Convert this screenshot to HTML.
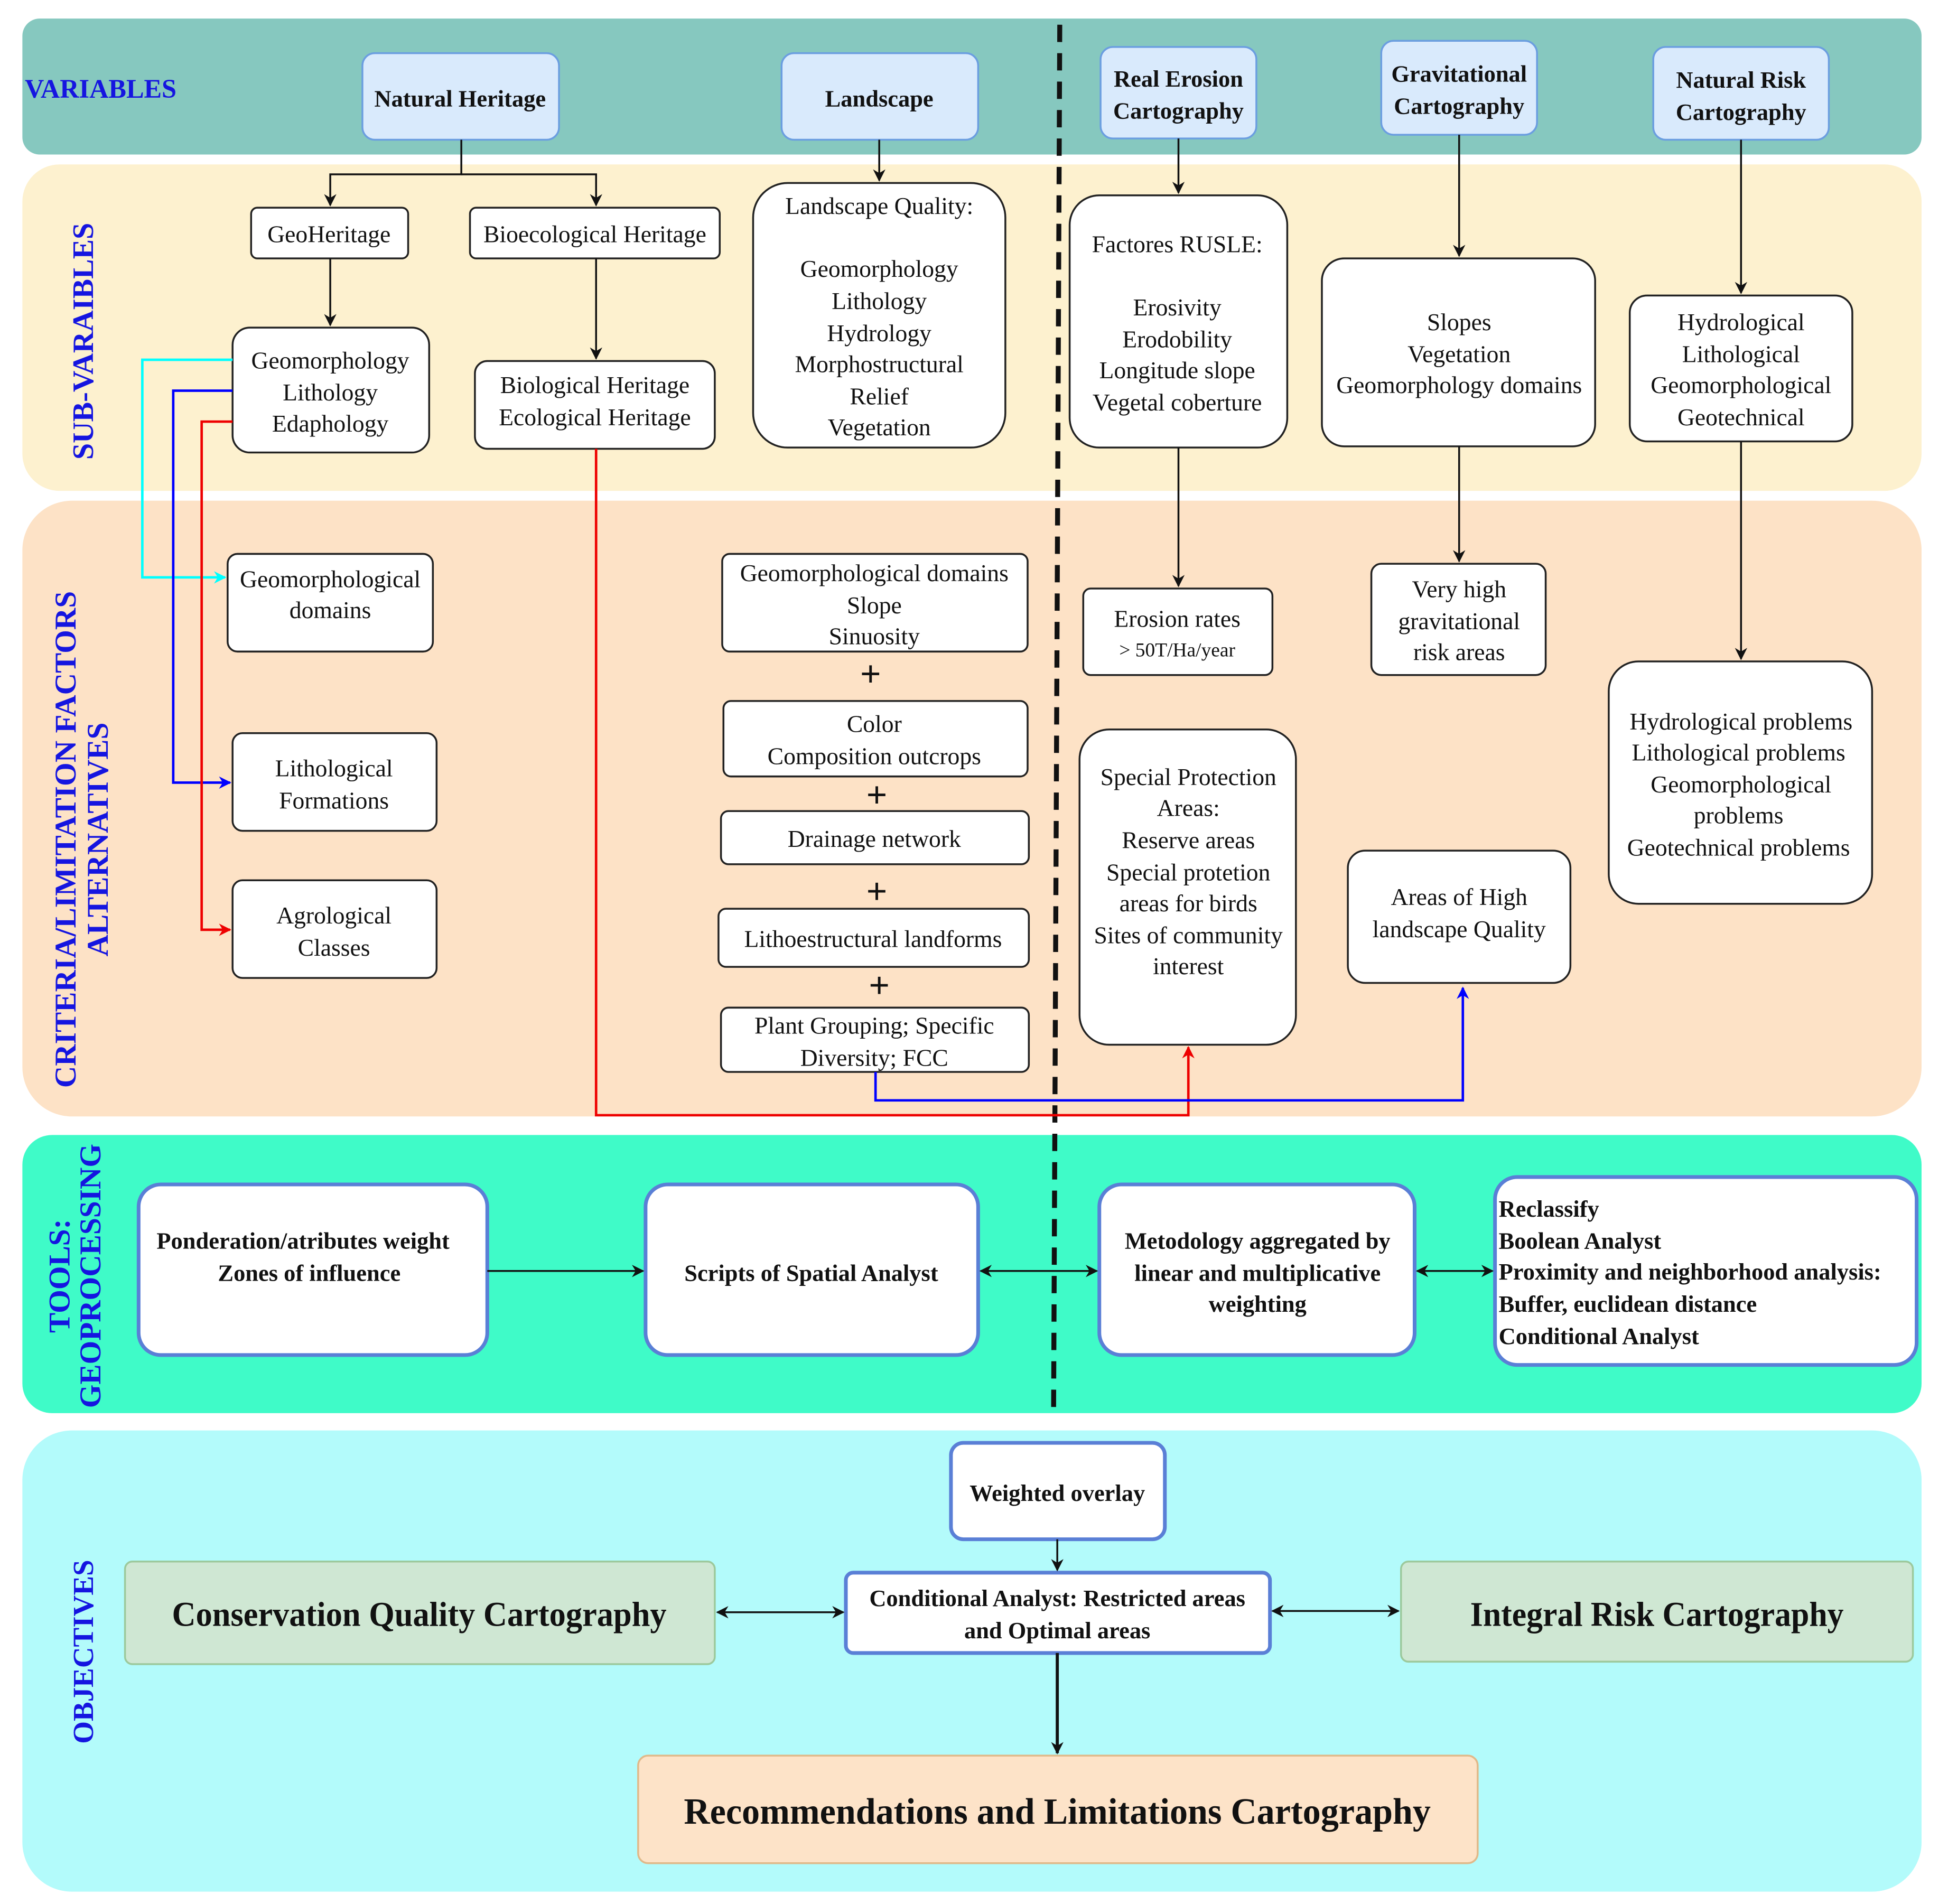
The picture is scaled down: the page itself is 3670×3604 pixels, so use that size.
<!DOCTYPE html>
<html><head><meta charset="utf-8"><style>
html,body{margin:0;padding:0;background:#fff}
svg{display:block}
text{font-family:"Liberation Serif",serif;fill:#111}
</style></head><body>
<svg width="3670" height="3604" viewBox="0 0 1568 1540" xmlns="http://www.w3.org/2000/svg">
<defs>
<marker id="ak" markerWidth="10" markerHeight="10" refX="9" refY="5" orient="auto" markerUnits="userSpaceOnUse"><path d="M0,0 L10,5 L0,10 L3,5 z" fill="#111"/></marker>
<marker id="ak2" markerWidth="10" markerHeight="10" refX="1" refY="5" orient="auto" markerUnits="userSpaceOnUse"><path d="M10,0 L0,5 L10,10 L7,5 z" fill="#111"/></marker>
<marker id="ac" markerWidth="10" markerHeight="10" refX="9" refY="5" orient="auto" markerUnits="userSpaceOnUse"><path d="M0,0 L10,5 L0,10 L3,5 z" fill="#0ff"/></marker>
<marker id="ab" markerWidth="10" markerHeight="10" refX="9" refY="5" orient="auto" markerUnits="userSpaceOnUse"><path d="M0,0 L10,5 L0,10 L3,5 z" fill="#00f"/></marker>
<marker id="ar" markerWidth="10" markerHeight="10" refX="9" refY="5" orient="auto" markerUnits="userSpaceOnUse"><path d="M0,0 L10,5 L0,10 L3,5 z" fill="#e00"/></marker>
</defs>
<rect x="18" y="15" width="1536" height="110" rx="14" fill="#86c8bf"/>
<rect x="18" y="133" width="1536" height="264" rx="30" fill="#fdf1cf"/>
<rect x="18" y="405" width="1536" height="498" rx="40" fill="#fde2c6"/>
<rect x="18" y="918" width="1536" height="225" rx="24" fill="#3ffbc8"/>
<rect x="18" y="1157" width="1536" height="373" rx="40" fill="#b3fbfb"/>

<g font-weight="bold">
<text x="20" y="79" font-size="21.5" style="fill:#1515e0">VARIABLES</text>
<text transform="translate(75,276) rotate(-90)" text-anchor="middle" font-size="24" style="fill:#1515e0">SUB-VARAIBLES</text>
<text transform="translate(61,679) rotate(-90)" text-anchor="middle" font-size="24.5" style="fill:#1515e0">CRITERIA/LIMITATION FACTORS</text>
<text transform="translate(87,679) rotate(-90)" text-anchor="middle" font-size="24.5" style="fill:#1515e0">ALTERNATIVES</text>
<text transform="translate(56,1032) rotate(-90)" text-anchor="middle" font-size="24.5" style="fill:#1515e0">TOOLS:</text>
<text transform="translate(81,1032) rotate(-90)" text-anchor="middle" font-size="24.5" style="fill:#1515e0">GEOPROCESSING</text>
<text transform="translate(75,1336) rotate(-90)" text-anchor="middle" font-size="23.5" style="fill:#1515e0">OBJECTIVES</text>
</g>

<line x1="857" y1="20" x2="852" y2="1143" stroke="#111" stroke-width="4" stroke-dasharray="14,9"/>

<g fill="#d9eafc" stroke="#6b9ee0" stroke-width="1.5">
<rect x="293" y="43" width="159" height="70" rx="10"/>
<rect x="632" y="43" width="159" height="70" rx="10"/>
<rect x="890" y="38" width="126" height="74" rx="10"/>
<rect x="1117" y="33" width="126" height="76" rx="10"/>
<rect x="1337" y="38" width="142" height="75" rx="10"/>
</g>
<g font-size="19" font-weight="bold" text-anchor="middle">
<text x="372" y="86">Natural Heritage</text>
<text x="711" y="86">Landscape</text>
<text x="953" y="70">Real Erosion</text><text x="953" y="96">Cartography</text>
<text x="1180" y="66">Gravitational</text><text x="1180" y="92">Cartography</text>
<text x="1408" y="71">Natural Risk</text><text x="1408" y="97">Cartography</text>
</g>

<g fill="#fff" stroke="#222" stroke-width="1.5">
<rect x="203" y="168" width="127" height="41" rx="5"/>
<rect x="380" y="168" width="202" height="41" rx="5"/>
<rect x="609" y="148" width="204" height="214" rx="28"/>
<rect x="188" y="265" width="159" height="101" rx="14"/>
<rect x="384" y="292" width="194" height="71" rx="10"/>
<rect x="865" y="158" width="176" height="204" rx="24"/>
<rect x="1069" y="209" width="221" height="152" rx="18"/>
<rect x="1318" y="239" width="180" height="118" rx="14"/>
<rect x="184" y="448" width="166" height="79" rx="8"/>
<rect x="188" y="593" width="165" height="79" rx="8"/>
<rect x="188" y="712" width="165" height="79" rx="8"/>
<rect x="584" y="448" width="247" height="79" rx="6"/>
<rect x="585" y="567" width="246" height="61" rx="6"/>
<rect x="583" y="656" width="249" height="43" rx="6"/>
<rect x="581" y="735" width="251" height="47" rx="6"/>
<rect x="583" y="815" width="249" height="52" rx="6"/>
<rect x="876" y="476" width="153" height="70" rx="6"/>
<rect x="1109" y="456" width="141" height="90" rx="8"/>
<rect x="1301" y="535" width="213" height="196" rx="24"/>
<rect x="873" y="590" width="175" height="255" rx="24"/>
<rect x="1090" y="688" width="180" height="107" rx="14"/>
</g>
<g font-size="19.5" text-anchor="middle">
<text x="266" y="196">GeoHeritage</text>
<text x="481" y="196">Bioecological Heritage</text>
<text x="711" y="173">Landscape Quality:</text>
<text x="711" y="224">Geomorphology</text><text x="711" y="250">Lithology</text><text x="711" y="276">Hydrology</text><text x="711" y="301">Morphostructural</text><text x="711" y="327">Relief</text><text x="711" y="352">Vegetation</text>
<text x="267" y="298">Geomorphology</text><text x="267" y="324">Lithology</text><text x="267" y="349">Edaphology</text>
<text x="481" y="318">Biological Heritage</text><text x="481" y="344">Ecological Heritage</text>
<text x="952" y="204">Factores RUSLE:</text>
<text x="952" y="255">Erosivity</text><text x="952" y="281">Erodobility</text><text x="952" y="306">Longitude slope</text><text x="952" y="332">Vegetal coberture</text>
<text x="1180" y="267">Slopes</text><text x="1180" y="293">Vegetation</text><text x="1180" y="318">Geomorphology domains</text>
<text x="1408" y="267">Hydrological</text><text x="1408" y="293">Lithological</text><text x="1408" y="318">Geomorphological</text><text x="1408" y="344">Geotechnical</text>
<text x="267" y="475">Geomorphological</text><text x="267" y="500">domains</text>
<text x="270" y="628">Lithological</text><text x="270" y="654">Formations</text>
<text x="270" y="747">Agrological</text><text x="270" y="773">Classes</text>
<text x="707" y="470">Geomorphological domains</text><text x="707" y="496">Slope</text><text x="707" y="521">Sinuosity</text>
<text x="707" y="592">Color</text><text x="707" y="618">Composition outcrops</text>
<text x="707" y="685">Drainage network</text>
<text x="706" y="766">Lithoestructural landforms</text>
<text x="707" y="836">Plant Grouping; Specific</text><text x="707" y="862">Diversity; FCC</text>
<text x="952" y="507">Erosion rates</text><text x="952" y="531" font-size="16">&gt; 50T/Ha/year</text>
<text x="1180" y="483">Very high</text><text x="1180" y="509">gravitational</text><text x="1180" y="534">risk  areas</text>
<text x="1408" y="590">Hydrological problems</text><text x="1406" y="615">Lithological problems</text><text x="1408" y="641">Geomorphological</text><text x="1406" y="666">problems</text><text x="1406" y="692">Geotechnical problems</text>
<text x="961" y="635">Special Protection</text><text x="961" y="660">Areas:</text><text x="961" y="686">Reserve areas</text><text x="961" y="712">Special protetion</text><text x="961" y="737">areas for birds</text><text x="961" y="763">Sites of community</text><text x="961" y="788">interest</text>
<text x="1180" y="732">Areas of High</text><text x="1180" y="758">landscape Quality</text>
</g>
<g font-size="30" font-weight="bold" text-anchor="middle">
<text x="704" y="555">+</text><text x="709" y="653">+</text><text x="709" y="731">+</text><text x="711" y="807">+</text>
</g>

<g stroke="#111" stroke-width="1.5" fill="none" marker-end="url(#ak)">
<polyline points="373,113 373,141 267,141 267,166"/>
<polyline points="373,141 482,141 482,166"/>
<line x1="267" y1="209" x2="267" y2="263"/>
<line x1="482" y1="209" x2="482" y2="290"/>
<line x1="711" y1="113" x2="711" y2="146"/>
<line x1="953" y1="112" x2="953" y2="156"/>
<line x1="1180" y1="109" x2="1180" y2="207"/>
<line x1="1408" y1="113" x2="1408" y2="237"/>
<line x1="953" y1="362" x2="953" y2="474"/>
<line x1="1180" y1="361" x2="1180" y2="454"/>
<line x1="1408" y1="357" x2="1408" y2="533"/>
</g>
<polyline points="188,291 115,291 115,467 182,467" stroke="#0ff" stroke-width="2" fill="none" marker-end="url(#ac)"/>
<polyline points="188,316 140,316 140,633 186,633" stroke="#00f" stroke-width="2" fill="none" marker-end="url(#ab)"/>
<polyline points="188,341 163,341 163,752 186,752" stroke="#e00" stroke-width="2" fill="none" marker-end="url(#ar)"/>
<polyline points="482,363 482,902 961,902 961,847" stroke="#e00" stroke-width="2" fill="none" marker-end="url(#ar)"/>
<polyline points="708,867 708,890 1183,890 1183,799" stroke="#00f" stroke-width="2" fill="none" marker-end="url(#ab)"/>

<g fill="#fff" stroke="#5a7fd6" stroke-width="3">
<rect x="112" y="958" width="282" height="138" rx="18"/>
<rect x="522" y="958" width="269" height="138" rx="18"/>
<rect x="889" y="958" width="255" height="138" rx="18"/>
<rect x="1209" y="952" width="341" height="152" rx="18"/>
</g>
<g font-size="19" font-weight="bold">
<text x="245" y="1010" text-anchor="middle">Ponderation/atributes weight</text>
<text x="250" y="1036" text-anchor="middle">Zones of influence</text>
<text x="656" y="1036" text-anchor="middle">Scripts of Spatial Analyst</text>
<text x="1017" y="1010" text-anchor="middle">Metodology aggregated by</text>
<text x="1017" y="1036" text-anchor="middle">linear and multiplicative</text>
<text x="1017" y="1061" text-anchor="middle">weighting</text>
<text x="1212" y="984">Reclassify</text>
<text x="1212" y="1010">Boolean Analyst</text>
<text x="1212" y="1035">Proximity and neighborhood analysis:</text>
<text x="1212" y="1061">Buffer, euclidean distance</text>
<text x="1212" y="1087">Conditional Analyst</text>
</g>
<g stroke="#111" stroke-width="1.5" fill="none">
<line x1="394" y1="1028" x2="520" y2="1028" marker-end="url(#ak)"/>
<line x1="793" y1="1028" x2="887" y2="1028" marker-end="url(#ak)" marker-start="url(#ak2)"/>
<line x1="1146" y1="1028" x2="1207" y2="1028" marker-end="url(#ak)" marker-start="url(#ak2)"/>
</g>

<rect x="769" y="1167" width="173" height="78" rx="10" fill="#fff" stroke="#5a7fd6" stroke-width="3"/>
<rect x="684" y="1272" width="343" height="65" rx="6" fill="#fff" stroke="#5a7fd6" stroke-width="3"/>
<rect x="101" y="1263" width="477" height="83" rx="6" fill="#cfe7d3" stroke="#9cc99c" stroke-width="1.5"/>
<rect x="1133" y="1263" width="414" height="81" rx="6" fill="#cfe7d3" stroke="#9cc99c" stroke-width="1.5"/>
<rect x="516" y="1420" width="679" height="87" rx="8" fill="#fde3c8" stroke="#e0b98a" stroke-width="1.5"/>
<g font-weight="bold" text-anchor="middle">
<text x="855" y="1214" font-size="19">Weighted overlay</text>
<text x="855" y="1299" font-size="19">Conditional Analyst: Restricted areas</text>
<text x="855" y="1325" font-size="19">and Optimal areas</text>
<text x="339" y="1315" font-size="28" textLength="400" lengthAdjust="spacingAndGlyphs">Conservation Quality Cartography</text>
<text x="1340" y="1315" font-size="28" textLength="302" lengthAdjust="spacingAndGlyphs">Integral Risk Cartography</text>
<text x="855" y="1475" font-size="30" textLength="604" lengthAdjust="spacingAndGlyphs">Recommendations and Limitations Cartography</text>
</g>
<g stroke="#111" stroke-width="1.5" fill="none">
<line x1="855" y1="1245" x2="855" y2="1270" marker-end="url(#ak)"/>
<line x1="580" y1="1304" x2="682" y2="1304" marker-end="url(#ak)" marker-start="url(#ak2)"/>
<line x1="1029" y1="1303" x2="1131" y2="1303" marker-end="url(#ak)" marker-start="url(#ak2)"/>
<line x1="855" y1="1337" x2="855" y2="1418" stroke-width="2.5" marker-end="url(#ak)"/>
</g>
</svg>
</body></html>
